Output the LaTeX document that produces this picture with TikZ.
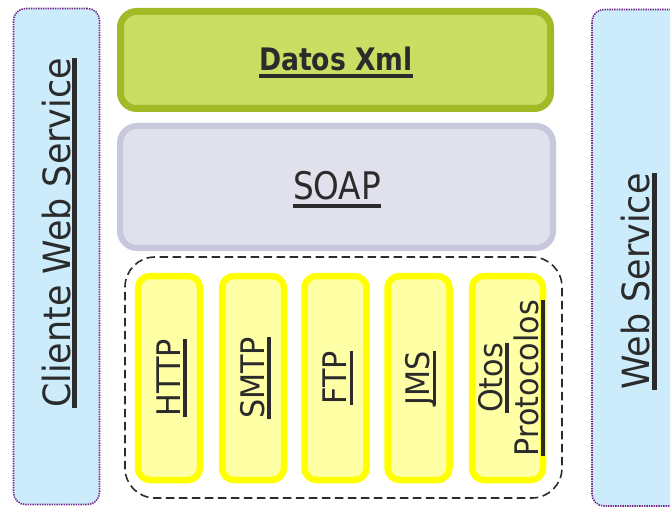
\documentclass[tikz,border=0pt]{standalone}
\usepackage{fontspec}
\newfontfamily\tah[FakeStretch=0.93]{DejaVu Sans}
\newfontfamily\tahnarrow[FakeStretch=0.86]{DejaVu Sans}
% underlined text: #1 gap below baseline, #2 rule thickness, #3 text
\newcommand\ulin[3]{\begingroup\setbox0\hbox{#3}\dp0=0pt\vtop{\box0\kern#1\hrule height #2}\endgroup}
\definecolor{sideblue}{HTML}{CCECFC}
\definecolor{sidepurple}{HTML}{76288A}
\definecolor{xmlfill}{HTML}{C9DE63}
\definecolor{xmldraw}{HTML}{A2BA26}
\definecolor{soapfill}{HTML}{E0E1EC}
\definecolor{soapdraw}{HTML}{C8C8DC}
\definecolor{protofill}{HTML}{FFFFA6}
\definecolor{protodraw}{HTML}{FFFF00}
\definecolor{ink}{HTML}{2B2B2B}
\begin{document}
\begin{tikzpicture}[x=1pt,y=-1pt,
  shell/.style={rectangle, inner sep=0pt, outer sep=0pt},
  sidebox/.style={shell, draw=sidepurple, fill=sideblue, line width=1.6pt,
    dash pattern=on 1.4pt off 1pt, rounded corners=12pt},
  xmlbox/.style={shell, draw=xmldraw, fill=xmlfill, line width=7pt, rounded corners=16pt},
  soapbox/.style={shell, draw=soapdraw, fill=soapfill, line width=6pt, rounded corners=17pt},
  protobox/.style={shell, draw=protodraw, fill=protofill, line width=6.5pt, rounded corners=12pt,
    minimum width=62pt, minimum height=204pt},
  groupbox/.style={shell, draw=ink, line width=1.6pt, dash pattern=on 8.5pt off 4.5pt, rounded corners=30pt},
  txt/.style={inner sep=0pt, outer sep=0pt, text=ink, anchor=base, font=\tah},
  sidetxt/.style={txt, rotate=90, font=\tah\fontsize{37.5}{40}\selectfont},
  prototxt/.style={txt, rotate=90, font=\tah\fontsize{32.5}{36}\selectfont}]
\useasboundingbox (0,0) rectangle (670,508);
\clip (0,0) rectangle (670,508);

% client and service columns
\node[sidebox, minimum width=86pt, minimum height=496pt] (client) at (56.5,256.5) {};
\node[sidebox, minimum width=98pt, minimum height=496.5pt] (service) at (641,257.75) {};
\node[sidetxt] (clienttxt) at (70,233) {\ulin{2.5pt}{5pt}{Cliente Web Service}};
\node[sidetxt] (servicetxt) at (649,281.5) {\ulin{3pt}{5pt}{Web Service}};

% protocol stack
\node[xmlbox, minimum width=430pt, minimum height=97pt] (xml) at (335.5,60) {};
\node[txt, font=\tahnarrow\bfseries\fontsize{31}{34}\selectfont] (xmltxt) at (336,71)
  {\ulin{3pt}{4.5pt}{Datos Xml}};

\node[soapbox, minimum width=433pt, minimum height=122pt] (soap) at (336.5,187) {};
\node[txt, font=\tahnarrow\fontsize{38}{42}\selectfont] (soaptxt) at (337,200)
  {\ulin{4pt}{4pt}{SOAP}};

\node[groupbox, minimum width=437pt, minimum height=241pt] (transport) at (343.5,377.5) {};

\node[protobox] (http) at (169,378) {};
\node[protobox] (smtp) at (253,378) {};
\node[protobox] (ftp) at (335.5,378) {};
\node[protobox] (jms) at (418.5,378) {};
\node[protobox, minimum width=71pt] (other) at (507.5,378) {};

\node[prototxt] (httptxt) at (180,378) {\ulin{3pt}{3.5pt}{HTTP}};
\node[prototxt] (smtptxt) at (264,378) {\ulin{3pt}{3.5pt}{SMTP}};
\node[prototxt] (ftptxt) at (346.5,378) {\ulin{3pt}{3.5pt}{FTP}};
\node[prototxt] (jmstxt) at (429.5,378) {\ulin{3pt}{3.5pt}{JMS}};
\node[prototxt, anchor=center, align=center] (othertxt) at (511.5,378)
  {\ulin{3pt}{3.5pt}{Otos}\\\ulin{3pt}{3.5pt}{Protocolos}};
\end{tikzpicture}
\end{document}
